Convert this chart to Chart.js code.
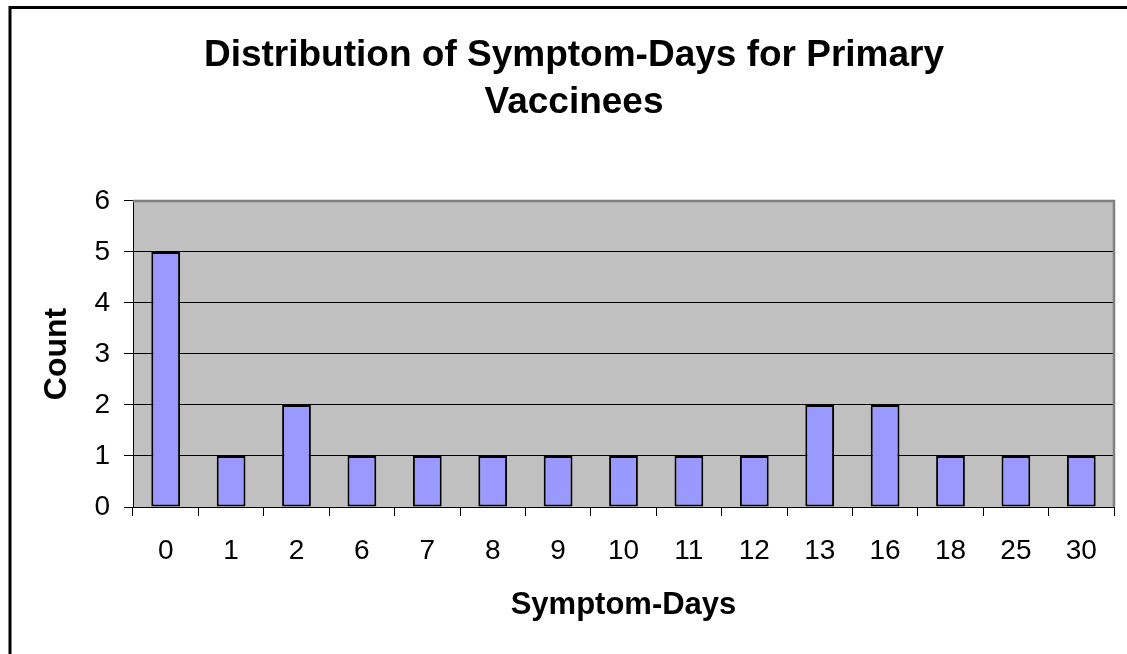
<!DOCTYPE html>
<html>
<head>
<meta charset="utf-8">
<script src="https://cdn.jsdelivr.net/npm/chart.js@4"></script>
<style>
  html, body { margin: 0; padding: 0; background: #fff; }
  #wrap { width: 1127px; height: 654px; }
</style>
</head>
<body>
<div id="wrap"><canvas id="myChart" width="1127" height="654"></canvas></div>
<script>
var categories = ['0', '1', '2', '6', '7', '8', '9', '10', '11', '12', '13', '16', '18', '25', '30'];
var counts = [5, 1, 2, 1, 1, 1, 1, 1, 1, 1, 2, 2, 1, 1, 1];
var yTicks = [0, 1, 2, 3, 4, 5, 6];

var FONT = '"Liberation Sans", Arial, sans-serif';

// grey plot area + outer frame, like the old excel chart
var excelLook = {
  id: 'excelLook',
  beforeDraw: function(chart) {
    var ctx = chart.ctx;
    var a = chart.chartArea;
    ctx.save();
    ctx.fillStyle = '#c0c0c0';
    ctx.fillRect(a.left, a.top, a.right - a.left, a.bottom - a.top);
    ctx.restore();
  },
  beforeDatasetsDraw: function(chart) {
    var ctx = chart.ctx;
    var a = chart.chartArea;
    ctx.save();
    ctx.strokeStyle = '#808080';
    ctx.lineWidth = 2.5;
    ctx.beginPath();
    ctx.moveTo(a.left, a.top);
    ctx.lineTo(a.right, a.top);
    ctx.lineTo(a.right, a.bottom);
    ctx.stroke();
    ctx.restore();
  },
  afterDraw: function(chart) {
    var ctx = chart.ctx;
    ctx.save();
    ctx.strokeStyle = '#000';
    ctx.lineWidth = 3;
    ctx.strokeRect(10, 7.5, 2000, 2000);
    ctx.restore();
  }
};

var ctx = document.getElementById('myChart');
var chart = new Chart(ctx, {
  type: 'bar',
  data: {
    labels: categories,
    datasets: [{
      label: 'Count',
      data: counts,
      backgroundColor: '#9999ff',
      borderColor: '#000',
      borderWidth: 2,
      borderSkipped: false,
      barPercentage: 0.44,
      categoryPercentage: 1
    }]
  },
  options: {
    responsive: false,
    animation: false,
    layout: { padding: { left: 34, right: 13, top: 0, bottom: 0 } },
    plugins: {
      legend: { display: false },
      tooltip: { enabled: false },
      title: {
        display: true,
        text: ['Distribution of Symptom-Days for Primary', 'Vaccinees'],
        color: '#000',
        font: { family: FONT, size: 37, weight: 'bold', lineHeight: 1.27 },
        padding: { top: 32, bottom: 75 }
      }
    },
    scales: {
      x: {
        grid: { drawOnChartArea: false, drawTicks: true, tickLength: 9, color: '#000', offset: true },
        border: { color: '#000', width: 1 },
        ticks: { color: '#000', font: { family: FONT, size: 28 }, padding: 18, maxRotation: 0 },
        title: {
          display: true, text: 'Symptom-Days', color: '#000',
          font: { family: FONT, size: 31, weight: 'bold' },
          padding: { top: 0, bottom: 30 }
        },
        afterFit: function(scale) { scale.height = 147; }
      },
      y: {
        min: 0,
        max: 6,
        afterBuildTicks: function(scale) {
          scale.ticks = yTicks.map(function(v) { return { value: v }; });
        },
        grid: {
          tickLength: 9,
          lineWidth: 1,
          color: function(c) { return c.tick && c.tick.value === 6 ? '#808080' : '#000'; },
          tickColor: '#000'
        },
        border: { color: '#000', width: 1 },
        ticks: { color: '#000', font: { family: FONT, size: 28 }, padding: 14 },
        title: {
          display: true, text: 'Count', color: '#000',
          font: { family: FONT, size: 32, weight: 'bold' },
          padding: { top: 4, bottom: 0 }
        },
        afterFit: function(scale) { scale.width = 99; }
      }
    }
  },
  plugins: [excelLook]
});
</script>
</body>
</html>
